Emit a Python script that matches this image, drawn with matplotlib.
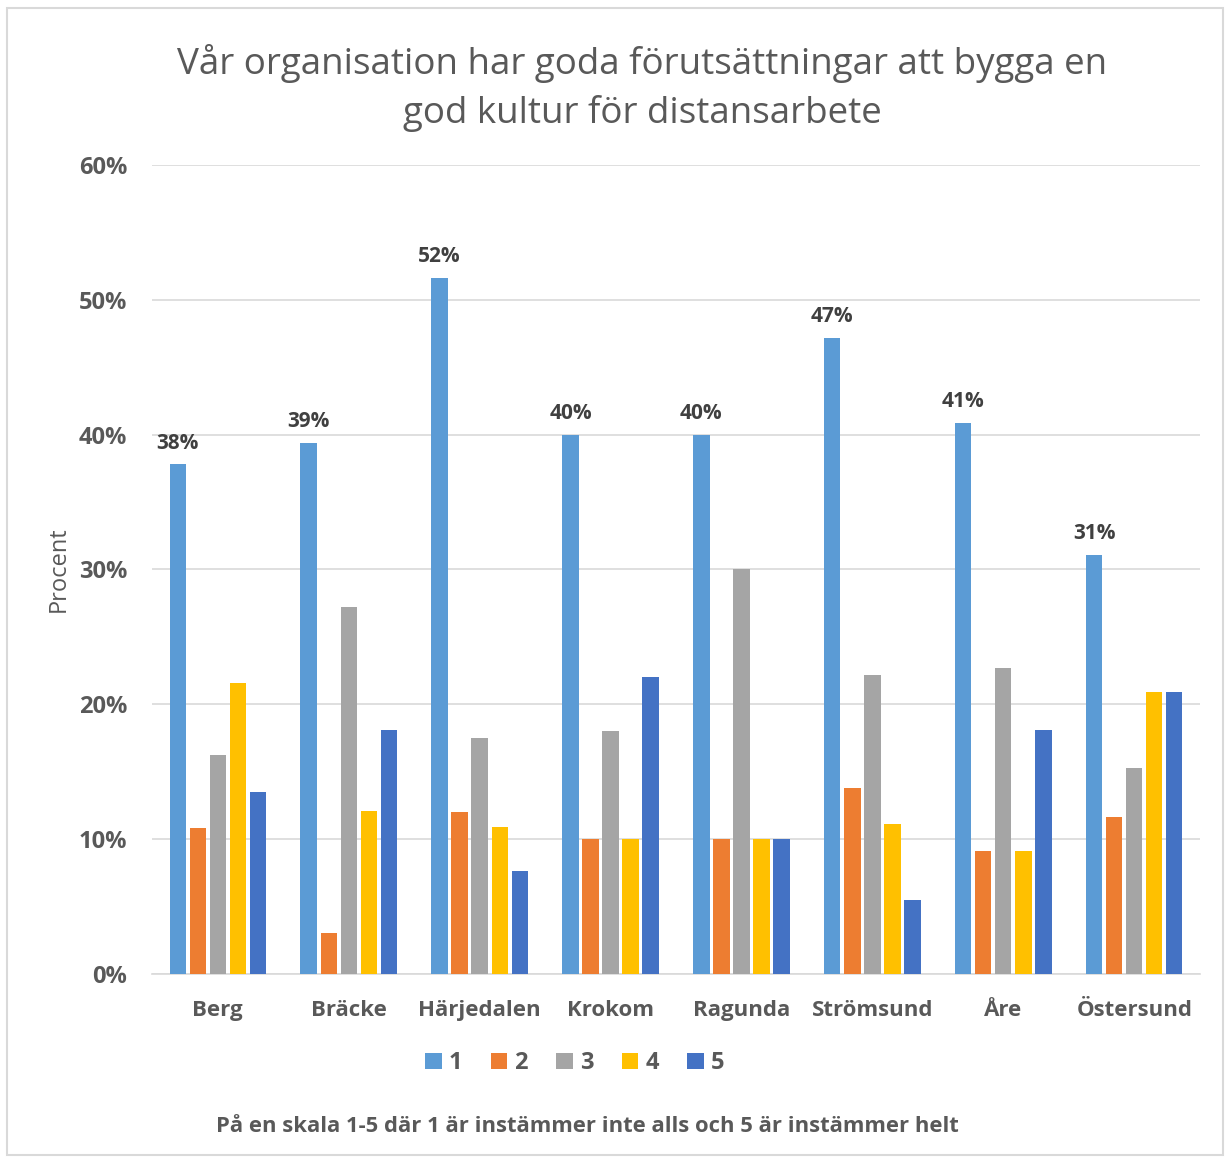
import matplotlib.pyplot as plt
import numpy as np
from matplotlib.patches import Rectangle

plt.rcParams['font.family'] = ['Open Sans', 'DejaVu Sans']

kommuner = ["Berg", "Bräcke", "Härjedalen", "Krokom", "Ragunda", "Strömsund", "Åre", "Östersund"]
svar1 = [37.8, 39.4, 51.6, 40.0, 40.0, 47.2, 40.9, 31.1]
svar2 = [10.8, 3.0, 12.0, 10.0, 10.0, 13.8, 9.1, 11.6]
svar3 = [16.2, 27.2, 17.5, 18.0, 30.0, 22.2, 22.7, 15.3]
svar4 = [21.6, 12.1, 10.9, 10.0, 10.0, 11.1, 9.1, 20.9]
svar5 = [13.5, 18.1, 7.6, 22.0, 10.0, 5.5, 18.1, 20.9]
etiketter = ["38%", "39%", "52%", "40%", "40%", "47%", "41%", "31%"]
serier = ["1", "2", "3", "4", "5"]
farger = ["#5B9BD5", "#ED7D31", "#A5A5A5", "#FFC000", "#4472C4"]

grey = "#595959"
fig = plt.figure(figsize=(12.28, 11.58), dpi=100)
fig.patches.append(Rectangle((0.006, 0.003), 0.99, 0.99, transform=fig.transFigure,
                             fill=False, edgecolor="#D9D9D9", linewidth=1.5))
ax = fig.add_axes([0.124, 0.159, 0.853, 0.6985])

x = np.arange(len(kommuner))
pitch = 0.153
width = 0.124
data = [svar1, svar2, svar3, svar4, svar5]
for i, (vals, c, lab) in enumerate(zip(data, farger, serier)):
    ax.bar(x + (i - 2) * pitch, np.array(vals) / 100, width, color=c, label=lab, zorder=3)

for xi, v, t in zip(x, svar1, etiketter):
    ax.text(xi - 2 * pitch, v / 100 + 0.008, t, ha="center", va="bottom",
            fontsize=15, fontweight="bold", color="#404040")

ax.set_xlim(-0.5, len(kommuner) - 0.5)
ax.set_ylim(0, 0.6)
ax.set_yticks(np.arange(0, 0.61, 0.1))
ax.set_yticklabels([f"{int(round(v * 100))}%" for v in np.arange(0, 0.61, 0.1)])
ax.set_xticks(x)
ax.set_xticklabels(kommuner)
ax.tick_params(axis="both", length=0, colors=grey)
ax.tick_params(axis="x", pad=19, labelsize=16)
ax.tick_params(axis="y", pad=18, labelsize=17)
for lbl in ax.get_xticklabels() + ax.get_yticklabels():
    lbl.set_fontweight("bold")
ax.grid(axis="y", color="#D9D9D9", linewidth=1.2, zorder=0)
for s in ["top", "right", "left"]:
    ax.spines[s].set_visible(False)
ax.spines["bottom"].set_color("#D9D9D9")
ax.spines["bottom"].set_linewidth(1.2)
ax.set_ylabel("Procent", fontsize=17, color=grey, labelpad=6)

fig.text(0.523, 0.924, "Vår organisation har goda förutsättningar att bygga en\ngod kultur för distansarbete",
         ha="center", va="center", fontsize=26.5, color=grey, linespacing=1.45)

leg = fig.legend(loc="center", bbox_to_anchor=(0.468, 0.082), ncol=5, frameon=False,
                 fontsize=17, handlelength=0.7, handleheight=0.7, columnspacing=1.2, handletextpad=0.3)
for t in leg.get_texts():
    t.set_color(grey)
    t.set_fontweight("bold")

fig.text(0.478, 0.027, "På en skala 1-5 där 1 är instämmer inte alls och 5 är instämmer helt",
         ha="center", va="center", fontsize=15.8, fontweight="bold", color=grey)

fig.savefig("out.png", dpi=100)
